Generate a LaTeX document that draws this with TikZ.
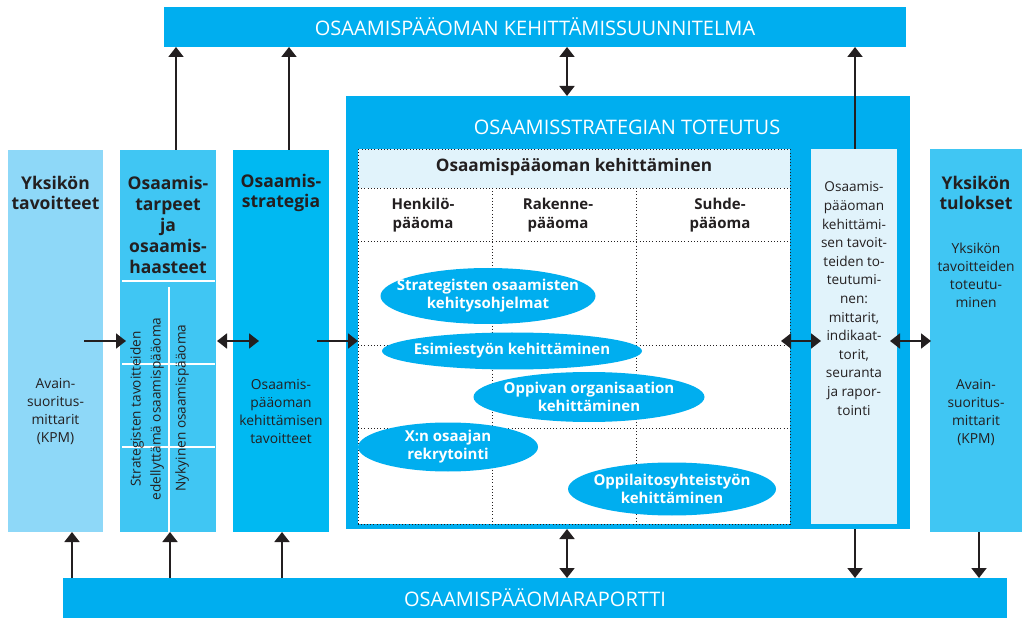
\documentclass[tikz,border=0pt]{standalone}
\usepackage{fontspec}
\setmainfont{Open Sans}
\usetikzlibrary{arrows.meta,shapes.geometric,calc}
\definecolor{cyanA}{HTML}{00AEEF}
\definecolor{colA}{HTML}{8ED8F8}
\definecolor{colB}{HTML}{40C6F3}
\definecolor{colC}{HTML}{00B9F2}
\definecolor{paleB}{HTML}{E1F3FB}
\definecolor{ink}{HTML}{231F20}
\tikzset{
  panel/.style={rectangle, inner sep=0pt, outer sep=0pt, anchor=north west},
  arr/.style={draw=ink, line width=1.9pt, -{Triangle[length=10pt,width=15pt]}},
  darr/.style={draw=ink, line width=1.9pt, {Triangle[length=10pt,width=15pt]}-{Triangle[length=10pt,width=15pt]}},
  ell/.style={ellipse, fill=cyanA, inner sep=0pt, outer sep=0pt},
  elltxt/.style={text=white, font=\bfseries\fontsize{15}{18}\selectfont, align=center},
  dotl/.style={draw=ink, line width=0.9pt, dash pattern=on 0.9pt off 2.3pt},
  ttl/.style={font=\bfseries\fontsize{17.5}{20.8}\selectfont, text=ink, align=center},
  sub/.style={font=\bfseries\fontsize{15}{19}\selectfont, text=ink, align=center},
  body/.style={font=\fontsize{13.8}{18}\selectfont, text=ink, align=center},
  rot/.style={font=\fontsize{13.6}{20}\selectfont, text=ink, align=center, rotate=90},
  banner/.style={font=\fontsize{20}{22}\selectfont, text=white},
  wline/.style={draw=white, line width=1.5pt},
}
\begin{document}
\begin{tikzpicture}[x=1pt,y=-1pt]
\useasboundingbox (0,0) rectangle (1026,620);
% main panels
\node[panel, fill=cyanA, minimum width=742, minimum height=40] (top) at (164,7) {};
\node[banner] (toptxt) at (top.center) {OSAAMISPÄÄOMAN KEHITTÄMISSUUNNITELMA};
\node[panel, fill=cyanA, minimum width=944, minimum height=40] (bot) at (63,578) {};
\node[banner] (bottxt) at (bot.center) {OSAAMISPÄÄOMARAPORTTI};
\node[panel, fill=colA, minimum width=95, minimum height=382] (c1) at (8,150) {};
\node[panel, fill=colB, minimum width=96, minimum height=382] (c2) at (120,150) {};
\node[panel, fill=colC, minimum width=96, minimum height=382] (c3) at (233,150) {};
\node[panel, fill=cyanA, minimum width=564, minimum height=433] (big) at (346,96) {};
\node[panel, fill=colB, minimum width=92, minimum height=383] (c5) at (930,149) {};
\node[panel, fill=white, minimum width=432, minimum height=375] (inner) at (358,149) {};
\node[panel, fill=paleB, minimum width=432, minimum height=39] (head) at (358,149) {};
\node[panel, fill=paleB, minimum width=86, minimum height=375] (rbox) at (811,149) {};

\node[banner] (bigtxt) at (627,127) {OSAAMISSTRATEGIAN TOTEUTUS};

% dotted grid
\draw[dotl] (inner.north west) rectangle (inner.south east);
\draw[dotl] (358,188) -- (790,188);
\draw[dotl] (358,241) -- (790,241);
\draw[dotl] (358,345) -- (790,345);
\draw[dotl] (358,428) -- (790,428);
\draw[dotl] (492,188) -- (492,524);
\draw[dotl] (636,188) -- (636,524);

\node[font=\bfseries\fontsize{17.2}{20}\selectfont, text=ink] (headtxt) at (574,167) {Osaamispääoman kehittäminen};
\node[sub] (h1) at (423,215) {Henkilö-\\pääoma};
\node[sub] (h2) at (558,215) {Rakenne-\\pääoma};
\node[sub] (h3) at (720,215) {Suhde-\\pääoma};

% ellipses
\node[ell, minimum width=215, minimum height=56] (e1) at (488,296) {};
\node[elltxt] at (e1) {Strategisten osaamisten\\kehitysohjelmat};
\node[ell, minimum width=260, minimum height=37] (e2) at (512,351) {};
\node[elltxt] at (e2) {Esimiestyön kehittäminen};
\node[ell, minimum width=231, minimum height=50] (e3) at (589,397) {};
\node[elltxt] at (e3) {Oppivan organisaation\\kehittäminen};
\node[ell, minimum width=180, minimum height=49] (e4) at (448,447) {};
\node[elltxt] at (e4) {X:n osaajan\\rekrytointi};
\node[ell, minimum width=208, minimum height=53] (e5) at (672,489) {};
\node[elltxt] at (e5) {Oppilaitosyhteistyön\\kehittäminen};

% column 1
\node[ttl] (t1) at (55.5,193) {Yksikön\\tavoitteet};
\node[body] (b1) at (55.5,412) {Avain-\\suoritus-\\mittarit\\(KPM)};
% column 2
\node[ttl] (t2) at (168,225) {Osaamis-\\tarpeet\\ja\\osaamis-\\haasteet};
\draw[wline] (122,281) -- (215,281);
\draw[wline] (169,287) -- (169,532);
\draw[wline] (122,364) -- (215,364);
\draw[wline] (122,447) -- (215,447);
\node[rot] (r1) at (147,409) {Strategisten tavoitteiden\\edellyttämä osaamispääoma};
\node[rot] (r2) at (182,408) {Nykyinen osaamispääoma};
% column 3
\node[ttl] (t3) at (281,193) {Osaamis-\\strategia};
\node[body] (b3) at (281,412) {Osaamis-\\pääoman\\kehittämisen\\tavoitteet};
% right inner box
\node[body, font=\fontsize{13.6}{18.6}\selectfont] (rb) at (854,298.5) {Osaamis-\\pääoman\\kehittämi-\\sen tavoit-\\teiden to-\\teutumi-\\nen:\\mittarit,\\indikaat-\\torit,\\seuranta\\ja rapor-\\tointi};
% column 5
\node[ttl] (t5) at (976,193) {Yksikön\\tulokset};
\node[body] (b5a) at (976,275) {Yksikön\\tavoitteiden\\toteutu-\\minen};
\node[body] (b5b) at (976,413) {Avain-\\suoritus-\\mittarit\\(KPM)};

% helper coordinates
\coordinate (xmid) at (567,0);
\coordinate (xr) at (855,0);

% horizontal arrows
\draw[arr] ([xshift=-19pt]c1.east) -- ([xshift=6pt]c2.west);
\draw[darr] ([xshift=1pt]c2.east) -- ([xshift=26pt]c3.west);
\draw[arr] ([xshift=-12pt]c3.east) -- (c3.east -| inner.west);
\draw[darr] ($(c3.east -| inner.east)+(-9,0)$) -- ($(c3.east -| rbox.west)+(10,0)$);
\draw[darr] ($(c3.east -| rbox.east)+(-7,0)$) -- ($(c3.east -| c5.west)+(1,0)$);

% vertical arrows to the top panel
\draw[arr] ([xshift=8pt]c2.north) -- ([xshift=8pt]c2.north |- top.south);
\draw[arr] ([xshift=8pt]c3.north) -- ([xshift=8pt]c3.north |- top.south);
\draw[darr] (xmid |- big.north) -- (xmid |- top.south);
\draw[arr] (xr |- rbox.north) -- (xr |- top.south);

% vertical arrows to / from the bottom panel
\draw[arr] ([xshift=16.5pt]c1.south |- bot.north) -- ([xshift=16.5pt]c1.south);
\draw[arr] ([xshift=2pt]c2.south |- bot.north) -- ([xshift=2pt]c2.south);
\draw[arr] ([xshift=1pt]c3.south |- bot.north) -- ([xshift=1pt]c3.south);
\draw[darr] (xmid |- big.south) -- (xmid |- bot.north);
\draw[arr] (xr |- big.south) -- (xr |- bot.north);
\draw[arr] ([xshift=3pt]c5.south) -- ([xshift=3pt]c5.south |- bot.north);
\end{tikzpicture}
\end{document}
